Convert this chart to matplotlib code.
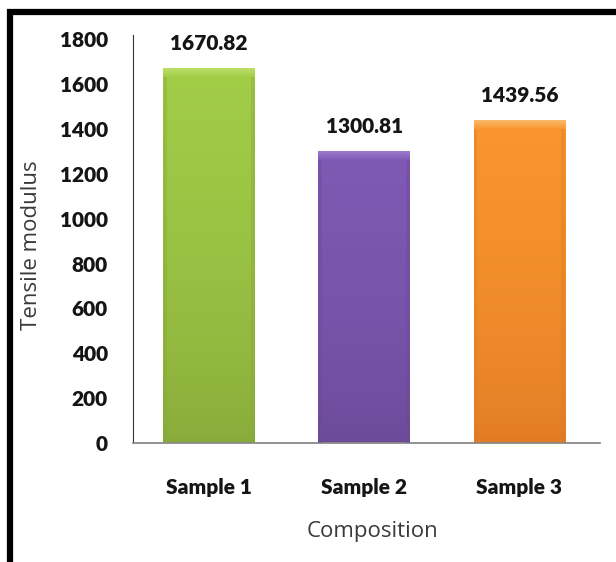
import numpy as np
import matplotlib
matplotlib.use("Agg")
import matplotlib.pyplot as plt
from matplotlib.patches import Rectangle
from matplotlib.colors import LinearSegmentedColormap

# tensile modulus for each composition
samples = ["Sample 1", "Sample 2", "Sample 3"]
modulus = [1670.82, 1300.81, 1439.56]
yticks = [0, 200, 400, 600, 800, 1000, 1200, 1400, 1600, 1800]

# (top, middle, bottom) shades for each bar
shades = [
    ("#bde06a", "#a2cd47", "#87a93a"),
    ("#9c7ccc", "#8059b4", "#6b4a98"),
    ("#fdbb6e", "#f9962f", "#e07b25"),
]

plt.rcParams["font.family"] = ["Lato", "DejaVu Sans"]

W, H = 616, 562
fig = plt.figure(figsize=(W / 100, H / 100), dpi=100)
ax = fig.add_axes([133 / W, 1 - 443 / H, 467 / W, (443 - 35) / H])

x = np.arange(len(samples))
width = 0.59
bars = ax.bar(x, modulus, width=width, color="none", edgecolor="none", zorder=2)

# gradient fill with a bevelled rim on each bar
grad = np.linspace(0, 1, 256).reshape(-1, 1)
bev = 38
for bar, sh in zip(bars, shades):
    cmap = LinearSegmentedColormap.from_list("b", [sh[2], sh[1]])
    x0, w, h = bar.get_x(), bar.get_width(), bar.get_height()
    im = ax.imshow(grad ** 0.6, cmap=cmap, origin="lower", aspect="auto",
                   extent=[x0, x0 + w, 0, h], zorder=2)
    im.set_clip_path(bar)
    top = LinearSegmentedColormap.from_list("t", [sh[1], sh[0]])
    ax.imshow(grad, cmap=top, origin="lower", aspect="auto",
              extent=[x0, x0 + w, h - bev, h], zorder=3)
    for xe in (x0, x0 + w - 0.025):
        ax.add_patch(Rectangle((xe, 0), 0.025, h - bev, facecolor=sh[2],
                               alpha=0.4, edgecolor="none", zorder=3))
    ax.text(x0 + w / 2, h + 110, f"{h:.2f}", ha="center", va="center",
            fontsize=15, fontweight="heavy", color="#151515")

ax.set_xlim(-0.49, 2.52)
ax.set_ylim(0, 1820)
ax.set_yticks(yticks)
ax.set_xticks(x)
ax.set_xticklabels(samples)
ax.tick_params(length=0, labelsize=15, colors="#151515")
ax.tick_params(axis="y", pad=18)
ax.tick_params(axis="x", pad=25)
for lbl in ax.get_xticklabels() + ax.get_yticklabels():
    lbl.set_fontweight("heavy")

for side in ["top", "right"]:
    ax.spines[side].set_visible(False)
ax.spines["left"].set_color("#333333")
ax.spines["bottom"].set_color("#8a8a8a")
ax.spines["bottom"].set_linewidth(1.3)

fig.text(32 / W, 1 - 245 / H, "Tensile modulus", rotation=90, ha="center",
         va="center", fontsize=16, color="#3a3a3a", family="Open Sans")
fig.text(372 / W, 1 - 532 / H, "Composition", ha="center", va="center",
         fontsize=16, color="#3a3a3a", family="Open Sans")

# heavy frame around the chart area
fig.patches.append(Rectangle((9.5 / W, -0.05), 1.0, 1.05 - 11.5 / H,
                             transform=fig.transFigure, fill=False,
                             edgecolor="black", linewidth=4.5))

fig.savefig("out.png", dpi=100)
